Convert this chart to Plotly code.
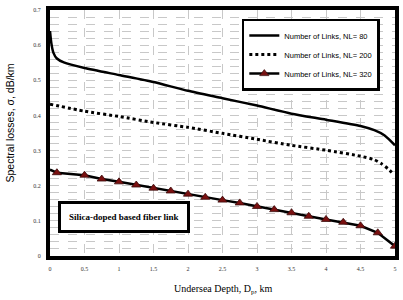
import plotly.graph_objects as go

# Data
x80 = [0, 0.02, 0.05, 0.1, 0.2, 0.5, 1.0, 1.5, 2.0, 2.5, 3.0, 3.5, 4.0, 4.5, 4.7, 4.85, 5.0]
y80 = [0.64, 0.605, 0.578, 0.562, 0.551, 0.535, 0.515, 0.495, 0.470, 0.449, 0.428, 0.405, 0.388, 0.370, 0.358, 0.343, 0.315]

x200 = [0, 0.5, 1.0, 1.5, 2.0, 2.5, 3.0, 3.5, 4.0, 4.5, 4.7, 4.8, 4.9, 4.97]
y200 = [0.432, 0.412, 0.397, 0.380, 0.366, 0.349, 0.332, 0.315, 0.301, 0.284, 0.274, 0.263, 0.248, 0.235]

x320 = [0, 0.1, 0.5, 0.75, 1.0, 1.25, 1.5, 1.75, 2.0, 2.25, 2.5, 2.75, 3.0, 3.25,
        3.5, 3.75, 4.0, 4.25, 4.5, 4.75, 5.0]
y320 = [0.246, 0.237, 0.230, 0.219, 0.211, 0.202, 0.193, 0.185, 0.176, 0.167, 0.159,
        0.151, 0.141, 0.132, 0.123, 0.113, 0.104, 0.096, 0.086, 0.066, 0.028]
m320 = [False] + [True] * (len(x320) - 1)

xticks = [0, 0.5, 1, 1.5, 2, 2.5, 3, 3.5, 4, 4.5, 5]
xticklabels = ["0", "0.5", "1", "1.5", "2", "2.5", "3", "3.5", "4", "4.5", "5"]
yticks = [0, 0.1, 0.2, 0.3, 0.4, 0.5, 0.6, 0.7]
yticklabels = ["0", "0.1", "0.2", "0.3", "0.4", "0.5", "0.6", "0.7"]

names = ["Number of Links, NL= 80", "Number of Links, NL= 200", "Number of Links, NL= 320"]

fig = go.Figure()
fig.add_trace(go.Scatter(x=x80, y=y80, mode="lines", name=names[0],
                         line=dict(color="black", width=2.5, shape="spline", smoothing=0.6)))
fig.add_trace(go.Scatter(x=x200, y=y200, mode="lines", name=names[1],
                         line=dict(color="black", width=3, dash="dot", shape="spline", smoothing=0.6)))
fig.add_trace(go.Scatter(x=x320, y=y320, mode="lines+markers", name=names[2],
                         line=dict(color="black", width=2.5),
                         marker=dict(symbol="triangle-up", size=8, color="#7a1010",
                                     line=dict(color="#3a0a0a", width=0.8),
                                     opacity=[1 if m else 0 for m in m320])))

grid = dict(gridcolor="#c8c8c8", griddash="dash", gridwidth=1)
fig.update_layout(
    width=403, height=300,
    margin=dict(l=50, r=8, t=10, b=44),
    paper_bgcolor="white", plot_bgcolor="white",
    font=dict(family="Liberation Sans, Arial", color="black"),
    showlegend=True,
    legend=dict(x=0.556, y=0.965, xanchor="left", yanchor="top",
                bgcolor="white", bordercolor="black", borderwidth=2.5,
                font=dict(size=7.5, family="Liberation Sans, Arial"),
                itemwidth=30),
    xaxis=dict(range=[0, 5], tickvals=xticks, ticktext=xticklabels, showline=True,
               linecolor="black", linewidth=4, mirror=True, ticks="", zeroline=False,
               automargin=False, ticklabeloverflow="allow", ticklabelstandoff=4,
               tickfont=dict(size=6, family="Liberation Serif", color="#333"),
               **grid),
    yaxis=dict(range=[0, 0.7], tickvals=yticks, ticktext=yticklabels, showline=True,
               linecolor="black", linewidth=4, mirror=True, ticks="", zeroline=False,
               automargin=False, ticklabelstandoff=4,
               tickfont=dict(size=6, family="Liberation Serif", color="#333"),
               minor=dict(dtick=0.02, showgrid=True, gridcolor="#c8c8c8", griddash="dash", gridwidth=1),
               **grid),
)

fig.add_annotation(x=0.5, y=-0.10, xref="paper", yref="paper", xanchor="center", yanchor="top",
                   text="Undersea Depth, D<sub>p</sub>, km", showarrow=False,
                   font=dict(size=10, family="Liberation Serif", color="black"))
fig.add_annotation(x=-0.115, y=0.54, xref="paper", yref="paper", xanchor="center", yanchor="middle",
                   text="Spectral losses, σ, dB/km", showarrow=False, textangle=-90,
                   font=dict(size=10.5, family="Liberation Sans, Arial", color="black"))

fig.add_annotation(x=0.023, y=0.157, xref="paper", yref="paper", xanchor="left", yanchor="middle",
                   text="<b>Silica-doped based fiber link</b>", showarrow=False,
                   font=dict(size=9, family="Liberation Serif", color="black"),
                   bgcolor="white", bordercolor="black", borderwidth=3, borderpad=8)

fig.write_html("out.html", config={"displayModeBar": False},
               post_script="document.body.style.margin='0';")
